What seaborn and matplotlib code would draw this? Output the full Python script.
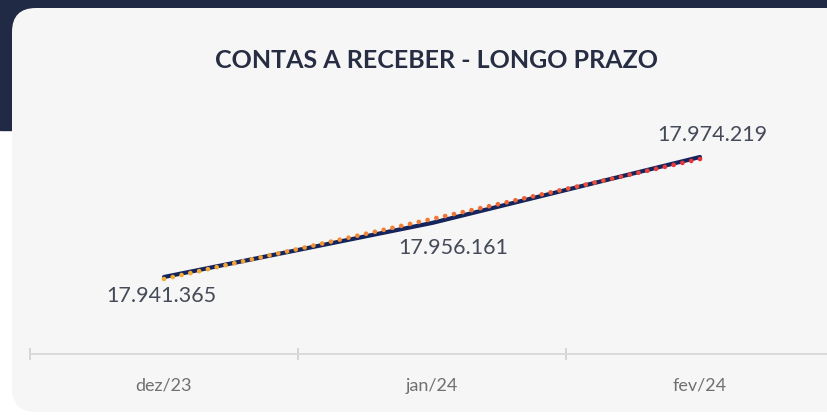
import numpy as np
import pandas as pd
import matplotlib
matplotlib.use("Agg")
import matplotlib.pyplot as plt
from matplotlib.patches import FancyBboxPatch, Rectangle
import seaborn as sns

meses = ["dez/23", "jan/24", "fev/24"]
valores = [17941365, 17956161, 17974219]

sns.set_theme(style="white")
plt.rcParams['font.family'] = ['Lato', 'DejaVu Sans']

W, H = 828, 415
fig = plt.figure(figsize=(W / 100, H / 100), dpi=100)
fig.patch.set_facecolor("white")

# fundo escuro + cartao cinza claro (em polegadas)
fig.patches.append(Rectangle((0, (H - 130) / 100), W / 100, 1.30, transform=fig.dpi_scale_trans,
                             color="#212a45", zorder=-2))
fig.patches.append(FancyBboxPatch((0.12, 0.03), 8.40, (H - 11) / 100,
                                  boxstyle="round,pad=0,rounding_size=0.24",
                                  transform=fig.dpi_scale_trans, facecolor="#f6f6f6",
                                  edgecolor="none", zorder=-1))

fig.text(437 / W, 1 - 61 / H, "CONTAS A RECEBER - LONGO PRAZO", ha="center", va="center",
         fontsize=18, fontweight="bold", color="#272d42")

ax = fig.add_axes([30 / W, 1 - 354 / H, 804 / W, 254 / H])
ax.set_facecolor("none")

df = pd.DataFrame({"mes": meses, "valor": valores, "x": range(len(meses))})
sns.lineplot(data=df, x="x", y="valor", ax=ax, color="#14245c", linewidth=3.0, zorder=3)

# linha de tendencia (linear), pontilhada com gradiente
coef = np.polyfit(df["x"], df["valor"], 1)
xt = np.linspace(0, len(meses) - 1, 62)
yt = np.polyval(coef, xt)
ax.scatter(xt, yt, c=xt, cmap=matplotlib.colors.LinearSegmentedColormap.from_list(
    "tend", ["#f2b033", "#f07a35", "#e8303c"]), s=11, linewidths=0, zorder=4)

ax.set_xlim(-0.5, len(meses) - 0.5)
ax.set_ylim(17920284, 17989825)

offsets = [(-2, -14), (15, -18), (9, 16)]
for i, (v, off) in enumerate(zip(valores, offsets)):
    ax.annotate(f"{v:,}".replace(",", "."), (i, v), xytext=off, textcoords="offset points",
                ha="center", va="center", fontsize=15.5, color="#454a58")

for s in ["top", "right", "left"]:
    ax.spines[s].set_visible(False)
ax.spines["bottom"].set_color("#d9d9d9")
ax.spines["bottom"].set_linewidth(1.3)
ax.set_yticks([])
ax.set_xticks(range(len(meses)))
ax.set_xticklabels(meses)
ax.set_xticks(np.arange(-0.5, len(meses), 1), minor=True)
ax.tick_params(axis="x", which="major", length=0, pad=17, labelsize=13, labelcolor="#707070")
ax.tick_params(axis="x", which="minor", length=9, direction="inout", color="#d0d0d0", width=1.2,
               bottom=True)
ax.set_xlabel("")
ax.set_ylabel("")

fig.savefig("out.png", dpi=100)
